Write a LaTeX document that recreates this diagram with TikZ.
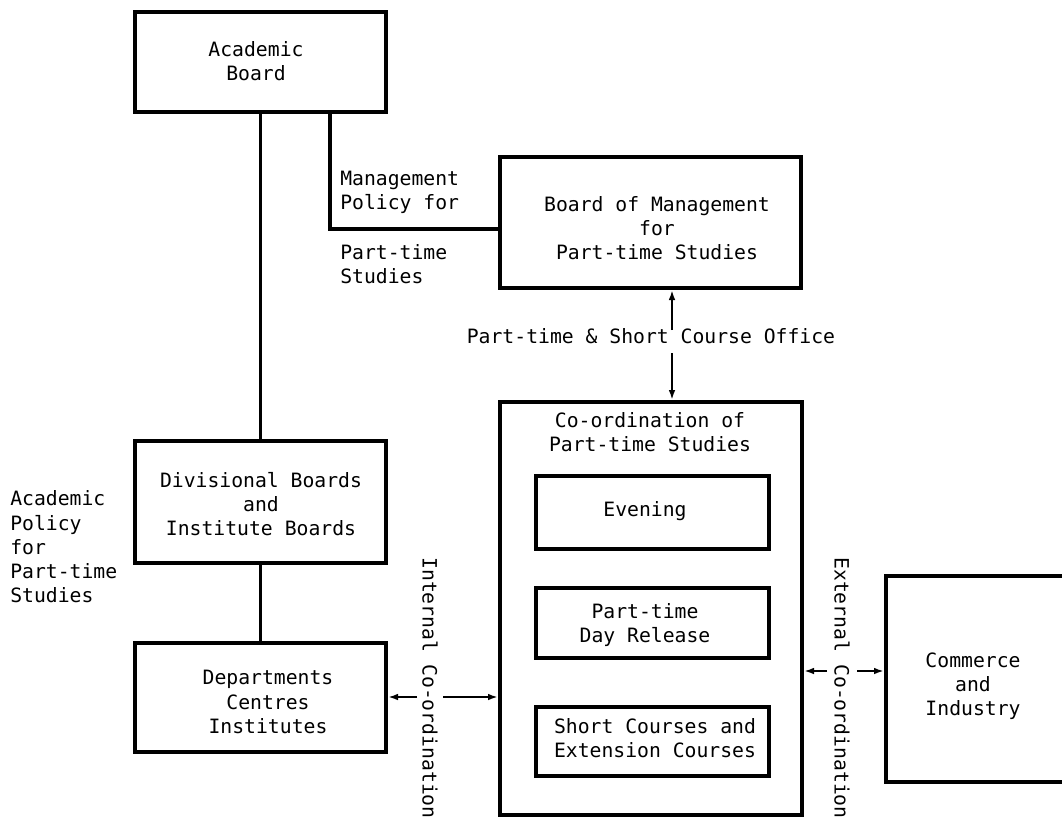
\documentclass[tikz,border=0pt]{standalone}
\usepackage{fontspec}
\setmonofont{DejaVu Sans Mono}
\usetikzlibrary{arrows.meta}
\begin{document}
\begin{tikzpicture}[x=0.75pt,y=-0.75pt,
  every node/.style={font=\ttfamily\fontsize{14.8}{18.2}\selectfont, inner sep=0pt, align=center},
  box/.style 2 args={draw, line width=3pt, minimum width={#1*0.75pt}, minimum height={#2*0.75pt}},
  conn/.style={line width=2.4pt},
  arr/.style={line width=1.5pt, -{Latex[length=7.5pt,width=5pt]}}
]
\useasboundingbox (0,0) rectangle (1062,818);
\clip (0,0) rectangle (1062,818);

% boxes
\node[box={251}{100}] (acad) at (260.5,62) {};
\node[box={301}{131}] (bom) at (650.5,222.5) {};
\node[box={251}{122}] (div) at (260.5,502) {};
\node[box={251}{109}] (dep) at (260.5,697.5) {};
\node[box={302}{413}] (coord) at (651,608.5) {};
\node[box={233}{73}] (eve) at (652.5,512.5) {};
\node[box={233}{70}] (ptd) at (652.5,623) {};
\node[box={233}{69}] (sc) at (652.5,741.5) {};
\node[box={234}{206}] (com) at (1003,679) {};

% box texts
\node (acadt) at (256,61) {Academic\\Board};
\node (bomt) at (657,228) {Board of Management\\for\\Part-time Studies};
\node (divt) at (261,504) {Divisional Boards\\and\\Institute Boards};
\node (dept) at (268,702) {Departments\\Centres\\Institutes};
\node (coordt) at (650,432) {Co-ordination of\\Part-time Studies};
\node (evet) at (645,511) {Evening};
\node (ptdt) at (645,625) {Part-time\\Day Release};
\node (sct) at (655,738) {Short Courses and\\Extension Courses};
\node (comt) at (973,686) {Commerce\\and\\Industry};

% side labels
\node[anchor=west, align=left] (mpol) at (340,192) {Management\\Policy for};
\node[anchor=west, align=left] (mpol2) at (340,264) {Part-time\\Studies};
\node[anchor=west, align=left] (apol) at (10,547) {Academic\\Policy\\for\\Part-time\\Studies};
\node (office) at (651,336) {Part-time \& Short Course Office};
\node[rotate=-90] (intc) at (430,688) {Internal Co-ordination};
\node[rotate=-90] (extc) at (842,688) {External Co-ordination};

% plain connectors
\coordinate (mturn) at (330,229);
\draw[conn] (acad.south) -- (div.north);
\draw[conn] (div.south) -- (dep.north);
\draw[conn] (acad.south -| mturn) -- (mturn) -- (mturn -| bom.west);

% arrows
\coordinate (offup) at (672,330);
\coordinate (offdn) at (672,353);
\draw[arr] (offup) -- (offup |- bom.south);
\draw[arr] (offdn) -- (offdn |- coord.north);

\coordinate (intl) at (417,697);
\coordinate (intr) at (443,697);
\draw[arr] (intl) -- (intl -| dep.east);
\draw[arr] (intr) -- (intr -| coord.west);

\coordinate (extl) at (827,671);
\coordinate (extr) at (857,671);
\draw[arr] (extl) -- (extl -| coord.east);
\draw[arr] (extr) -- (extr -| com.west);
\end{tikzpicture}
\end{document}
